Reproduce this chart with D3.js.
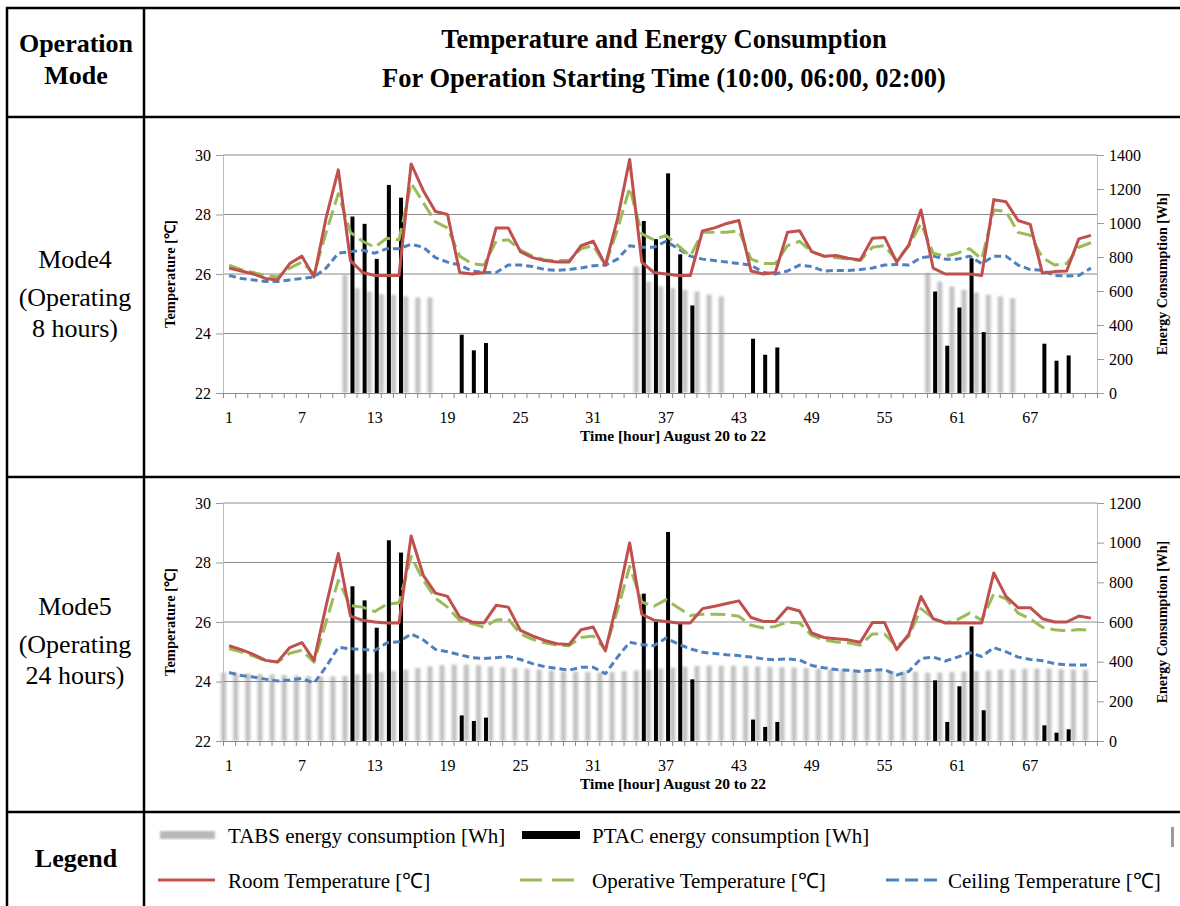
<!DOCTYPE html>
<html>
  <head>
    <meta charset="utf-8">
    <script type="text/javascript" src="https://d3js.org/d3.v7.min.js"></script>
    <style>
      body { margin:0; background:#fff; }
      text { font-family: "Liberation Serif", "Times New Roman", serif; }
    </style>
  </head>
  <body>
  </body>
  <script>

// hours on the x axis
var hours = d3.range(1, 73);
var xTickLabels = [1, 7, 13, 19, 25, 31, 37, 43, 49, 55, 61, 67];
var tempTicks = [22, 24, 26, 28, 30];
var energyTicksMode4 = [0, 200, 400, 600, 800, 1000, 1200, 1400];
var energyTicksMode5 = [0, 200, 400, 600, 800, 1000, 1200];

// Mode4 (operating 8 hours)
var mode4Room = [
  26.2, 26.1, 26.0, 25.85, 25.8, 26.35, 26.6, 25.9, 27.9, 29.5, 26.45, 26.05,
  25.95, 25.95, 25.95, 29.7, 28.8, 28.1, 28.0, 26.05, 26.0, 26.05, 27.55, 27.55,
  26.75, 26.55, 26.45, 26.4, 26.4, 26.95, 27.1, 26.3, 27.85, 29.85, 26.4, 26.05,
  26.0, 25.95, 25.95, 27.45, 27.55, 27.7, 27.8, 26.1, 26.0, 26.05, 27.4, 27.45,
  26.75, 26.6, 26.62, 26.53, 26.47, 27.2, 27.23, 26.4, 26.98, 28.15, 26.2, 26.0,
  26.0, 26.0, 25.95, 28.5, 28.43, 27.8, 27.67, 26.03, 26.08, 26.1, 27.18, 27.3
];
var mode4Operative = [
  26.3, 26.15, 26.05, 25.95, 25.9, 26.2, 26.4, 26.0, 27.4, 28.7, 27.4, 27.1,
  26.9, 27.2, 27.15, 29.05, 28.4, 27.75, 27.55, 26.6, 26.35, 26.3, 27.1, 27.15,
  26.8, 26.6, 26.47, 26.45, 26.45, 26.85, 26.95, 26.3, 27.5, 28.9, 27.35, 27.15,
  27.3, 26.95, 26.6, 27.4, 27.4, 27.4, 27.45, 26.5, 26.35, 26.35, 26.95, 27.1,
  26.75, 26.6, 26.55, 26.5, 26.45, 26.9, 26.95, 26.45, 26.95, 27.7, 26.7, 26.6,
  26.7, 26.85, 26.5, 28.15, 28.1, 27.4, 27.3, 26.55, 26.3, 26.35, 26.9, 27.05
];
var mode4Ceiling = [
  25.95, 25.85, 25.8, 25.75, 25.75, 25.8, 25.85, 25.9, 26.2, 26.7, 26.75, 26.8,
  26.7, 26.85, 26.85, 27.0, 26.9, 26.55, 26.4, 26.3, 26.1, 26.05, 26.05, 26.3,
  26.3, 26.25, 26.15, 26.12, 26.15, 26.2, 26.28, 26.3, 26.5, 26.95, 26.9, 26.9,
  27.1, 26.85, 26.6, 26.5, 26.45, 26.4, 26.35, 26.3, 26.05, 26.0, 26.1, 26.3,
  26.25, 26.1, 26.12, 26.12, 26.15, 26.2, 26.3, 26.32, 26.3, 26.55, 26.6, 26.5,
  26.5, 26.6, 26.35, 26.6, 26.6, 26.3, 26.15, 26.12, 25.95, 25.93, 25.95, 26.2
];
var mode4Tabs = [
  0, 0, 0, 0, 0, 0, 0, 0, 0, 0, 695, 617,
  597, 581, 578, 568, 562, 562, 0, 0, 0, 0, 0, 0,
  0, 0, 0, 0, 0, 0, 0, 0, 0, 0, 744, 656,
  627, 617, 607, 597, 578, 568, 0, 0, 0, 0, 0, 0,
  0, 0, 0, 0, 0, 0, 0, 0, 0, 0, 705, 656,
  627, 607, 591, 578, 568, 558, 0, 0, 0, 0, 0, 0
];
var mode4Ptac = [
  0, 0, 0, 0, 0, 0, 0, 0, 0, 0, 1038, 995,
  789, 1224, 1149, 0, 0, 0, 0, 343, 251, 294, 0, 0,
  0, 0, 0, 0, 0, 0, 0, 0, 0, 0, 1012, 905,
  1292, 816, 515, 0, 0, 0, 0, 319, 225, 268, 0, 0,
  0, 0, 0, 0, 0, 0, 0, 0, 0, 0, 597, 278,
  503, 793, 358, 0, 0, 0, 0, 290, 190, 221, 0, 0
];

// Mode5 (operating 24 hours)
var mode5Room = [
  25.2, 25.07, 24.91, 24.71, 24.66, 25.14, 25.31, 24.71, 26.56, 28.3, 26.2, 26.06,
  26.0, 25.97, 25.97, 28.89, 27.57, 26.97, 26.86, 26.17, 26.0, 25.97, 26.56, 26.5,
  25.72, 25.53, 25.38, 25.27, 25.24, 25.74, 25.83, 25.03, 26.73, 28.66, 26.26, 26.06,
  26.02, 25.97, 25.97, 26.45, 26.53, 26.62, 26.71, 26.15, 26.02, 26.02, 26.48, 26.37,
  25.63, 25.48, 25.44, 25.4, 25.32, 25.98, 25.98, 25.07, 25.59, 26.86, 26.11, 25.97,
  25.97, 25.97, 25.97, 27.65, 26.86, 26.48, 26.48, 26.11, 26.0, 26.0, 26.2, 26.13
];
var mode5Operative = [
  25.1, 25.0, 24.85, 24.7, 24.65, 24.95, 25.05, 24.65, 26.0, 27.4, 26.55, 26.5,
  26.35, 26.6, 26.65, 28.2, 27.4, 26.8, 26.5, 26.05, 25.95, 25.82, 26.07, 26.1,
  25.6, 25.42, 25.3, 25.22, 25.2, 25.48, 25.53, 25.07, 26.4, 27.87, 26.67, 26.53,
  26.75, 26.48, 26.22, 26.26, 26.26, 26.25, 26.19, 25.89, 25.8, 25.85, 26.0, 25.97,
  25.55, 25.4, 25.33, 25.3, 25.22, 25.6, 25.6, 25.16, 25.52, 26.45, 26.13, 25.97,
  26.08, 26.3, 26.06, 26.95, 26.78, 26.3, 26.1, 25.82, 25.74, 25.7, 25.75, 25.72
];
var mode5Ceiling = [
  24.3, 24.2, 24.15, 24.08, 24.02, 24.05, 24.1, 23.95, 24.5, 25.15, 25.1, 25.08,
  25.04, 25.3, 25.34, 25.6, 25.4, 25.08, 25.0, 24.9, 24.8, 24.77, 24.8, 24.84,
  24.74, 24.6, 24.5, 24.44, 24.38, 24.48, 24.48, 24.26, 24.82, 25.32, 25.24, 25.2,
  25.46, 25.26, 25.1, 24.98, 24.94, 24.9, 24.87, 24.82, 24.76, 24.73, 24.76, 24.72,
  24.54, 24.46, 24.4, 24.38, 24.34, 24.38, 24.4, 24.22, 24.34, 24.77, 24.82, 24.69,
  24.82, 24.97, 24.84, 25.14, 25.0, 24.82, 24.74, 24.7, 24.6, 24.56, 24.55, 24.56
];
var mode5Tabs = [
  345, 343, 340, 338, 336, 333, 330, 328, 325, 325, 328, 335,
  340, 348, 353, 360, 368, 376, 383, 385, 385, 382, 376, 372,
  368, 364, 360, 356, 352, 350, 348, 345, 348, 352, 356, 360,
  365, 370, 375, 378, 380, 380, 380, 378, 376, 374, 372, 370,
  368, 365, 362, 360, 358, 356, 355, 352, 350, 350, 345, 345,
  348, 350, 352, 356, 360, 362, 365, 365, 365, 362, 360, 360
];
var mode5Ptac = [
  0, 0, 0, 0, 0, 0, 0, 0, 0, 0, 780, 709,
  571, 1012, 950, 0, 0, 0, 0, 129, 101, 118, 0, 0,
  0, 0, 0, 0, 0, 0, 0, 0, 0, 0, 743, 600,
  1054, 592, 311, 0, 0, 0, 0, 108, 71, 96, 0, 0,
  0, 0, 0, 0, 0, 0, 0, 0, 0, 0, 306, 96,
  276, 578, 155, 0, 0, 0, 0, 79, 42, 59, 0, 0
];

var RED = '#c0504d', GREEN = '#9bbb59', BLUE = '#4f81bd';

var svg = d3.select("body").append("svg").attr("width", 1180).attr("height", 906);
svg.append("rect").attr("width", 1180).attr("height", 906).attr("fill", "#fff");

var defs = svg.append("defs");
var grad = defs.append("linearGradient").attr("id", "tabsGrad")
  .attr("x1", 0).attr("x2", 1).attr("y1", 0).attr("y2", 0);
grad.append("stop").attr("offset", "0%").attr("stop-color", "#f2f2f2");
grad.append("stop").attr("offset", "40%").attr("stop-color", "#bcbcbc");
grad.append("stop").attr("offset", "60%").attr("stop-color", "#bcbcbc");
grad.append("stop").attr("offset", "100%").attr("stop-color", "#f2f2f2");
defs.append("filter").attr("id", "soft").attr("x", "-50%").attr("width", "200%")
  .append("feGaussianBlur").attr("stdDeviation", "1.1 0.8");

// table frame
var frame = svg.append("g").attr("stroke", "#000").attr("stroke-width", 2.5);
[8, 117, 477, 812].forEach(function(y){
  frame.append("line").attr("x1", 6).attr("x2", 1180).attr("y1", y).attr("y2", y);
});
[7, 144].forEach(function(x){
  frame.append("line").attr("x1", x).attr("x2", x).attr("y1", 7).attr("y2", 906);
});

// header
svg.append("text").attr("x", 76).attr("y", 52).attr("text-anchor", "middle")
  .attr("font-size", 26).attr("font-weight", "bold").text("Operation");
svg.append("text").attr("x", 76).attr("y", 84).attr("text-anchor", "middle")
  .attr("font-size", 26).attr("font-weight", "bold").text("Mode");
svg.append("text").attr("x", 664).attr("y", 48).attr("text-anchor", "middle")
  .attr("font-size", 26.5).attr("font-weight", "bold").text("Temperature and Energy Consumption");
svg.append("text").attr("x", 664).attr("y", 87).attr("text-anchor", "middle")
  .attr("font-size", 26.5).attr("font-weight", "bold").text("For Operation Starting Time (10:00, 06:00, 02:00)");

function modeLabel(lines, y0){
  lines.forEach(function(s, i){
    svg.append("text").attr("x", 75).attr("y", y0 + [0, 38, 69][i])
      .attr("text-anchor", "middle").attr("font-size", 26).text(s);
  });
}
modeLabel(["Mode4", "(Operating", "8 hours)"], 268);
modeLabel(["Mode5", "(Operating", "24 hours)"], 615);
svg.append("text").attr("x", 76).attr("y", 867).attr("text-anchor", "middle")
  .attr("font-size", 26).attr("font-weight", "bold").text("Legend");

var x = d3.scaleBand().domain(hours).range([223, 1097]);
var xEdge = d3.scaleLinear().domain([0, 72]).range([223, 1097]);
var bw = x.bandwidth();

function drawPanel(top, room, oper, ceil, tabs, ptac, eTicks){
  var h = 238;
  var g = svg.append("g");
  var y = d3.scaleLinear().domain([22, 30]).range([top + h, top]);
  var yE = d3.scaleLinear().domain([0, eTicks[eTicks.length - 1]]).range([top + h, top]);

  // TABS bars (soft gradient like the source)
  g.append("g").attr("filter", "url(#soft)").selectAll("rect").data(hours).enter().append("rect")
    .attr("x", function(d){ return x(d) + bw / 2 - 9; })
    .attr("width", 7)
    .attr("y", function(d, i){ return yE(tabs[i]); })
    .attr("height", function(d, i){ return yE(0) - yE(tabs[i]); })
    .attr("fill", "url(#tabsGrad)");

  // gridlines
  g.append("g").selectAll("line").data(tempTicks.slice(1)).enter().append("line")
    .attr("x1", 223).attr("x2", 1097)
    .attr("y1", function(d){ return y(d); }).attr("y2", function(d){ return y(d); })
    .attr("stroke", "#8a8a8a").attr("stroke-width", 1);

  // PTAC bars
  g.append("g").selectAll("rect").data(hours).enter().append("rect")
    .attr("x", function(d){ return x(d) + bw / 2; })
    .attr("width", 4)
    .attr("y", function(d, i){ return yE(ptac[i]); })
    .attr("height", function(d, i){ return yE(0) - yE(ptac[i]); })
    .attr("fill", "#000");

  // axes
  var axL = g.append("g").attr("transform", "translate(223,0)")
    .call(d3.axisLeft(y).tickValues(tempTicks).tickSize(7).tickSizeOuter(0).tickPadding(5));
  var axR = g.append("g").attr("transform", "translate(1097,0)")
    .call(d3.axisRight(yE).tickValues(eTicks).tickFormat(d3.format("d"))
      .tickSize(7).tickSizeOuter(0).tickPadding(5));
  var axB = g.append("g").attr("transform", "translate(0," + (top + h) + ")")
    .call(d3.axisBottom(xEdge).tickValues(d3.range(0, 73)).tickFormat("").tickSize(5).tickSizeOuter(0));
  var axLab = g.append("g").attr("transform", "translate(0," + (top + h) + ")")
    .call(d3.axisBottom(x).tickValues(xTickLabels).tickSize(0).tickPadding(19));
  axLab.select(".domain").remove();
  [axL, axR].forEach(function(a){
    a.select(".domain").attr("stroke", "#bdbdbd");
    a.selectAll(".tick line").attr("stroke", "#9a9a9a");
  });
  axB.select(".domain").attr("stroke", "#8a8a8a");
  axB.selectAll(".tick line").attr("stroke", "#8a8a8a");
  [axL, axR, axLab].forEach(function(a){
    a.selectAll("text").attr("font-family", "Liberation Serif, serif")
      .attr("font-size", 16).attr("fill", "#000");
  });

  // lines
  function path(vals, color, dash){
    g.append("path").datum(vals)
      .attr("fill", "none").attr("stroke", color).attr("stroke-width", 3)
      .attr("stroke-dasharray", dash)
      .attr("stroke-linejoin", "round")
      .attr("d", d3.line()
        .x(function(d, i){ return x(hours[i]) + bw / 2; })
        .y(function(d){ return y(d); }));
  }
  path(ceil, BLUE, "7,4");
  path(oper, GREEN, "15,6");
  path(room, RED, null);

  // titles
  g.append("text").attr("transform", "translate(175," + (top + h / 2) + ") rotate(-90)")
    .attr("text-anchor", "middle").attr("font-size", 14.5).attr("font-weight", "bold")
    .text("Temperature [℃]");
  g.append("text").attr("transform", "translate(1167," + (top + h / 2) + ") rotate(-90)")
    .attr("text-anchor", "middle").attr("font-size", 14).attr("font-weight", "bold")
    .text("Energy Consumption [Wh]");
  g.append("text").attr("x", 673).attr("y", top + h + 48)
    .attr("text-anchor", "middle").attr("font-size", 15.5).attr("font-weight", "bold")
    .text("Time [hour]  August 20 to 22");
}

drawPanel(155, mode4Room, mode4Operative, mode4Ceiling, mode4Tabs, mode4Ptac, energyTicksMode4);
drawPanel(503, mode5Room, mode5Operative, mode5Ceiling, mode5Tabs, mode5Ptac, energyTicksMode5);

// legend
var lg = svg.append("g");
lg.append("rect").attr("x", 160).attr("y", 831).attr("width", 55).attr("height", 8)
  .attr("fill", "#b8b8b8").attr("filter", "url(#soft)");
lg.append("rect").attr("x", 522).attr("y", 831).attr("width", 58).attr("height", 8).attr("fill", "#000");
lg.append("rect").attr("x", 1171).attr("y", 827).attr("width", 3).attr("height", 20).attr("fill", "#9a9a9a");
lg.append("line").attr("x1", 158).attr("x2", 215).attr("y1", 880).attr("y2", 880)
  .attr("stroke", RED).attr("stroke-width", 3);
lg.append("line").attr("x1", 520).attr("x2", 578).attr("y1", 880).attr("y2", 880)
  .attr("stroke", GREEN).attr("stroke-width", 3).attr("stroke-dasharray", "22,10");
lg.append("line").attr("x1", 886).attr("x2", 940).attr("y1", 880).attr("y2", 880)
  .attr("stroke", BLUE).attr("stroke-width", 3).attr("stroke-dasharray", "13,6");
var legendTexts = [
  ["TABS energy consumption [Wh]", 228, 843],
  ["PTAC energy consumption [Wh]", 592, 843],
  ["Room Temperature [℃]", 228, 888],
  ["Operative Temperature [℃]", 592, 888],
  ["Ceiling Temperature [℃]", 948, 888]
];
legendTexts.forEach(function(t){
  lg.append("text").attr("x", t[1]).attr("y", t[2]).attr("font-size", 21).text(t[0]);
});

  </script>
</html>
